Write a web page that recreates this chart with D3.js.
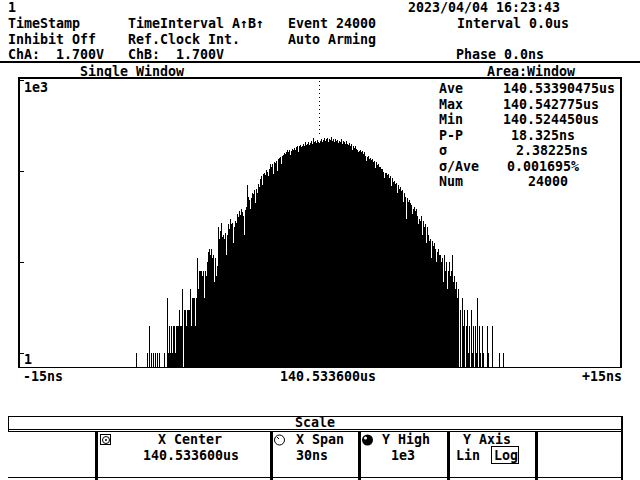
<!DOCTYPE html>
<html><head><meta charset="utf-8">
<script src="https://cdn.jsdelivr.net/npm/d3@7"></script>
<style>
body{margin:0;background:#fff}
svg{display:block}
text{font-family:'DejaVu Sans Mono',monospace;font-weight:bold;font-size:13.3px;fill:#000;white-space:pre}
</style>
</head><body>
<svg id="c" width="640" height="480"></svg>
<script>
// ---------- data ----------
const binStartNs = -9.2;      // left edge of first histogram bin, relative to X center
const binWidthNs = 0.05;
const counts = [
 1,0,0,0,0,0,0,0,0,0, 0,1,0,2,0,1,0,1,0,1, 0,1,0,1,0,0,0,0,1,0, 0,4,1,2,1,2,1,2,2,1,
 2,2,2,3,2,2,5,0,3,3, 2,3,3,3,5,2,4,4,4,2, 4,11,5,8,
 8,8,7,8,4,8,7,10,13,14, 12,14,11,12,6,11,7,9,24,18, 22,27,19,20,18,21,12,20,26,23,
 30,26,27,16,24,28,27,34,31,36, 33,38,35,32,20,37,40,70,52,48, 38,51,58,56,62,44,64,58,72,66,
 82,88,70,92,96,90,102,98,88,104, 118,112,120,92,126,122,130,100,136,140,
 142,118,146,150,158,152,160,168,162,170, 150,166,176,170,180,172,184,188,160,186,
 192,182,190,196,186,210,194,200,206,192, 204,212,198,232,206,214,202,220,210,204,
 216,224,206,218,228,212,222,230,210,226, 218,234,212,222,208,226,214,220,204,216,
 210,222,200,212,206,196,214,200,192,204, 188,196,170,190,180,186,176,172,160,166,
 170,160,164,154,160,148,130,142,146,136, 140,132,136,126,130,108,124,116,118,110,
 112,104,106,98,84,94,96,90,92,84, 88,68,84,76,78,72,74,58,70,64,
 66,60,62,46,58,52,30,50,46,48, 44,42,34,38,40,36,38,32,26,30,
 28,32,20,28,24,26,16,24,20,17, 18,11,17,15,16,14,10,13,14,12,
 12,10,11,6,12,8,10,5,8,10, 7,8,12,6,7,5,6,4,5,0, 3,0,4,2,3,0,2,3,1,2,
 0,3,1,2,0,2,1,4,0,2, 1,0,2,1,0,0,0,2,1,0, 0,0,2,0,0,0,0,0,0,1, 0,0,0,1
];
const xDomainNs = [-15, 15];
const yDomain = [1, 1000];
const yTickValues = [1, 10, 100, 1000];
const yTickLabels = [{v: 1000, t: "1e3"}, {v: 1, t: "1"}];
const xAxisLabels = ["-15ns", "140.533600us", "+15ns"];
const headerTexts = [
  {x: 8, y: 12, t: "1"},
  {x: 408, y: 12, t: "2023/04/04 16:23:43"},
  {x: 8, y: 28, t: "TimeStamp"},
  {x: 128, y: 28, t: "TimeInterval A\u2191B\u2191"},
  {x: 288, y: 28, t: "Event 24000"},
  {x: 457, y: 28, t: "Interval 0.0us"},
  {x: 8, y: 44, t: "Inhibit Off"},
  {x: 128, y: 44, t: "Ref.Clock Int."},
  {x: 288, y: 44, t: "Auto Arming"},
  {x: 8, y: 59, t: "ChA:  1.700V"},
  {x: 128, y: 59, t: "ChB:  1.700V"},
  {x: 456, y: 59, t: "Phase 0.0ns"},
  {x: 80, y: 76, t: "Single Window"},
  {x: 487, y: 76, t: "Area:Window"}
];
const statNames = ["Ave", "Max", "Min", "P-P", "\u03c3", "\u03c3/Ave", "Num"];
const statValues = ["140.53390475us", "140.542775us", "140.524450us", "18.325ns", "2.38225ns", "0.001695%", "24000"];
const statValueX = [503, 503, 503, 511, 516, 507, 528];
const panelTitle = "Scale";
const panelCells = [
  {l1: "X Center", l2: "140.533600us", icon: "knob", ix: 100, t1: 190, t2: 191, anchor: "middle"},
  {l1: "X Span", l2: "30ns", icon: "ring", ix: 274, t1: 296, t2: 296, anchor: "start"},
  {l1: "Y High", l2: "1e3", icon: "ball", ix: 362, t1: 382, t2: 391, anchor: "start"},
  {l1: "Y Axis", l2: null, icon: null, ix: 0, t1: 463, t2: 0, anchor: "start"}
];
const yAxisOptions = ["Lin", "Log"];

// ---------- drawing ----------
const svg = d3.select("#c");
const g = svg.append("g").attr("shape-rendering", "crispEdges");

const x = d3.scaleLinear().domain(xDomainNs).range([20, 620]);
const y = d3.scaleLog().domain(yDomain).range([353, 80]);
const baseY = 367;

// header texts
svg.selectAll("text.h").data(headerTexts).enter().append("text")
  .attr("x", d => d.x).attr("y", d => d.y).text(d => d.t);

// header separator line
g.append("rect").attr("x", 0).attr("y", 61).attr("width", 640).attr("height", 2).attr("fill", "#000");

// frame
g.append("rect").attr("x", 19).attr("y", 77).attr("width", 603).attr("height", 2).attr("fill", "#000");
g.append("rect").attr("x", 18).attr("y", 77).attr("width", 2).attr("height", baseY - 77 + 1).attr("fill", "#000");
g.append("rect").attr("x", 620).attr("y", 77).attr("width", 2).attr("height", baseY - 77 + 1).attr("fill", "#000");

// histogram bars
const bins = counts.map((c, i) => ({ns: binStartNs + i * binWidthNs, c}));
g.selectAll("rect.bar").data(bins.filter(d => d.c > 0)).enter().append("rect")
  .attr("class", "bar")
  .attr("x", d => Math.round(x(d.ns)))
  .attr("width", d => Math.max(1, Math.round(x(d.ns + binWidthNs)) - Math.round(x(d.ns))))
  .attr("y", d => Math.round(y(d.c)))
  .attr("height", d => baseY - Math.round(y(d.c)))
  .attr("fill", "#000");

// baseline
g.append("rect").attr("x", 19).attr("y", baseY).attr("width", 603).attr("height", 1).attr("fill", "#000");

// y ticks (left)
g.selectAll("rect.yt").data(yTickValues).enter().append("rect")
  .attr("x", 20).attr("y", d => Math.round(y(d))).attr("width", 4).attr("height", 1).attr("fill", "#000");
svg.selectAll("text.yl").data(yTickLabels).enter().append("text")
  .attr("x", 24).attr("y", d => d.v === 1 ? 364 : 92).text(d => d.t);

// centre marker (dotted)
g.append("line").attr("x1", Math.round(x(0)) - 0.5).attr("x2", Math.round(x(0)) - 0.5)
  .attr("y1", 81).attr("y2", 134).attr("stroke", "#000").attr("stroke-width", 1)
  .attr("stroke-dasharray", "1 3");

// x axis labels
svg.append("text").attr("x", x(xDomainNs[0]) + 3).attr("y", 381).text(xAxisLabels[0]);
svg.append("text").attr("x", x(0) + 8).attr("y", 381).attr("text-anchor", "middle").text(xAxisLabels[1]);
svg.append("text").attr("x", x(xDomainNs[1]) + 2).attr("y", 381).attr("text-anchor", "end").text(xAxisLabels[2]);

// stats block
svg.selectAll("text.sn").data(statNames).enter().append("text")
  .attr("x", 439).attr("y", (d, i) => 93 + i * 15.5).text(d => d);
svg.selectAll("text.sv").data(statValues).enter().append("text")
  .attr("x", (d, i) => statValueX[i]).attr("y", (d, i) => 93 + i * 15.5).text(d => d);

// bottom panel
g.append("rect").attr("x", 8).attr("y", 416).attr("width", 615).attr("height", 1).attr("fill", "#000");
g.append("rect").attr("x", 8).attr("y", 429).attr("width", 615).attr("height", 1).attr("fill", "#000");
g.append("rect").attr("x", 8).attr("y", 431).attr("width", 615).attr("height", 1).attr("fill", "#000");
g.append("rect").attr("x", 8).attr("y", 416).attr("width", 1).attr("height", 15).attr("fill", "#000");
g.append("rect").attr("x", 8).attr("y", 477).attr("width", 615).attr("height", 1).attr("fill", "#000");
g.append("rect").attr("x", 621).attr("y", 416).attr("width", 2).attr("height", 64).attr("fill", "#000");
svg.append("text").attr("x", 295).attr("y", 427).text(panelTitle);

const seps = [96, 271, 359, 448, 536];
g.selectAll("rect.sep").data(seps).enter().append("rect")
  .attr("x", d => d - 1).attr("y", 432).attr("width", 3).attr("height", 48).attr("fill", "#000");

panelCells.forEach(c => {
  svg.append("text").attr("x", c.t1).attr("y", 444).attr("text-anchor", c.anchor).text(c.l1);
  if (c.l2) svg.append("text").attr("x", c.t2).attr("y", 460).attr("text-anchor", c.anchor).text(c.l2);
  const ix = c.ix, iy = 434;
  if (c.icon === "knob") {
    svg.append("rect").attr("x", ix + 0.5).attr("y", iy + 0.5).attr("width", 10).attr("height", 10)
      .attr("fill", "none").attr("stroke", "#000");
    svg.append("circle").attr("cx", ix + 6).attr("cy", iy + 6).attr("r", 3.5)
      .attr("fill", "none").attr("stroke", "#000");
    svg.append("circle").attr("cx", ix + 6).attr("cy", iy + 6).attr("r", 1).attr("fill", "#000");
  } else if (c.icon === "ring") {
    svg.append("circle").attr("cx", ix + 5.5).attr("cy", iy + 6).attr("r", 5)
      .attr("fill", "none").attr("stroke", "#000");
    svg.append("line").attr("x1", ix + 3).attr("y1", iy + 3).attr("x2", ix + 5).attr("y2", iy + 5)
      .attr("stroke", "#000");
  } else if (c.icon === "ball") {
    svg.append("circle").attr("cx", ix + 5.5).attr("cy", iy + 6).attr("r", 5.5).attr("fill", "#000");
    svg.append("circle").attr("cx", ix + 3.5).attr("cy", iy + 4).attr("r", 1.5).attr("fill", "#fff");
  }
});
// Y Axis options
svg.append("text").attr("x", 456).attr("y", 460).text(yAxisOptions[0]);
svg.append("text").attr("x", 494).attr("y", 460).text(yAxisOptions[1]);
g.append("rect").attr("x", 491.5).attr("y", 446.5).attr("width", 27).attr("height", 17)
  .attr("fill", "none").attr("stroke", "#000");
</script>
</body></html>
